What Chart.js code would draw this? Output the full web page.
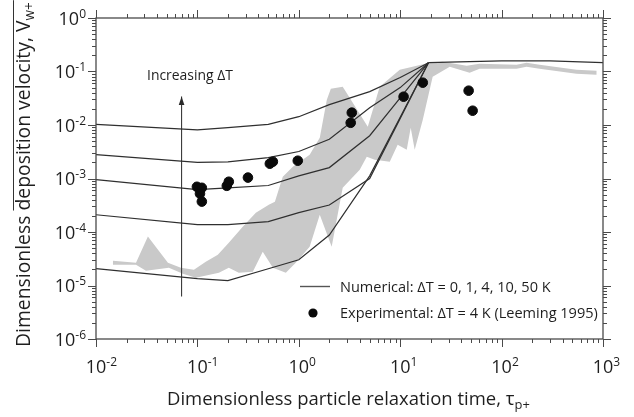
<!DOCTYPE html>
<html>
<head>
<meta charset="utf-8">
<script src="https://cdn.jsdelivr.net/npm/chart.js@4/dist/chart.umd.min.js"></script>
<style>
html,body{margin:0;padding:0;background:#fff;}
#wrap{width:634px;height:417px;position:relative;}
</style>
</head>
<body>
<div id="wrap"><canvas id="c"></canvas></div>
<script>
const FAMILY = "'Open Sans', 'DejaVu Sans', sans-serif";

// ---- Numerical curves (ΔT = 50, 10, 4, 1, 0 K) ----
const numX    = [0.01, 0.1, 0.2, 0.5, 1, 2, 5, 10, 19];
const numDT50 = [0.0103, 0.0081, 0.0089, 0.0103, 0.0143, 0.024, 0.042, 0.077, 0.146];
const numDT10 = [0.0028, 0.0020, 0.00205, 0.00245, 0.0032, 0.0054, 0.021, 0.05, 0.146];
const numDT4  = [0.00095, 0.00062, 0.00067, 0.00074, 0.00112, 0.0016, 0.0063, 0.032, 0.146];
const numDT1  = [0.00021, 0.000137, 0.000137, 0.000156, 0.00023, 0.00032, 0.001, 0.0133, 0.146];
const numDT0  = [0.0000206, 0.0000134, 0.0000123, 0.0000206, 0.0000303, 0.000088, 0.00112, 0.014, 0.146];
// common plateau of all curves for large relaxation times
const plateauX = [19, 30, 100, 300, 1000];
const plateauY = [0.146, 0.15, 0.158, 0.158, 0.147];

// ---- Experimental data (Leeming 1995, ΔT = 4 K) ----
const expX = [0.0989, 0.1106, 0.106, 0.1106, 0.195, 0.204, 0.315, 0.518, 0.555, 0.977, 3.33, 3.25, 10.8, 16.7, 47.3, 51.8];
const expY = [7.0e-4, 6.7e-4, 5.2e-4, 3.7e-4, 7.3e-4, 8.7e-4, 1.04e-3, 1.89e-3, 2.06e-3, 2.15e-3, 0.017, 0.011, 0.0338, 0.0618, 0.0438, 0.0185];

// ---- Grey scatter band (outline: upper edge left->right, lower edge right->left) ----
const bandX = [0.0147, 0.0248, 0.0325, 0.0512, 0.0687, 0.0924, 0.121, 0.159, 0.204, 0.280, 0.377, 0.506, 0.581, 0.695, 0.873, 1.28, 1.61, 1.89, 2.07, 2.71, 3.04, 4.79, 6.28, 9.9, 19.5, 26.2, 45.2, 60.7, 140.6, 176, 237, 548, 863,
               863, 548, 237, 176, 140.6, 60.7, 48.4, 30.8, 20.9, 16.7, 13.9, 12.7, 11.6, 9.44, 7.89, 5.61, 4.68, 3.99, 2.71, 2.11, 1.61, 1.28, 0.933, 0.745, 0.555, 0.441, 0.352, 0.256, 0.204, 0.163, 0.0966, 0.0720, 0.0523, 0.0311, 0.0248, 0.0147];
const bandY = [2.9e-5, 2.67e-5, 8.2e-5, 2.67e-5, 2.15e-5, 1.97e-5, 2.79e-5, 3.76e-5, 6.3e-5, 1.26e-4, 2.3e-4, 3.24e-4, 3.68e-4, 1.08e-3, 1.66e-3, 2.79e-3, 5.8e-3, 0.0297, 0.0477, 0.052, 0.0368, 9.3e-3, 0.052, 0.108, 0.146, 0.152, 0.128, 0.14, 0.134, 0.146, 0.134, 0.108, 0.1035,
               0.087, 0.091, 0.113, 0.123, 0.113, 0.113, 0.095, 0.123, 0.080, 0.0126, 3.45e-3, 8.9e-3, 3.45e-3, 4.28e-3, 2.06e-3, 2.25e-3, 2.55e-3, 1.46e-3, 6.7e-4, 5.3e-5, 2.1e-4, 5.3e-5, 2.67e-5, 1.73e-5, 2.15e-5, 4.28e-5, 1.81e-5, 1.73e-5, 2.15e-5, 1.73e-5, 1.4e-5, 1.66e-5, 2.15e-5, 1.89e-5, 2.45e-5, 2.45e-5];

// ---- "Increasing ΔT" arrow ----
const arrowX = [0.0698, 0.0698];
const arrowY = [6.2e-6, 0.034];

// ---- Axis ticks (decade exponents) ----
const xTickExps = [-2, -1, 0, 1, 2, 3];
const yTickExps = [-6, -5, -4, -3, -2, -1, 0];

// ---- Texts ----
const xTitleMain = 'Dimensionless particle relaxation time, τ';
const xTitleSub = 'p+';
const yTitleA = 'Dimensionless ';
const yTitleB = 'deposition velocity, V';
const yTitleSub = 'w+';
const arrowLabel = 'Increasing ΔT';
const legendNum = 'Numerical: ΔT = 0, 1, 4, 10, 50 K';
const legendExp = 'Experimental: ΔT = 4 K (Leeming 1995)';

const pts = (xs, ys) => xs.map((v, i) => ({x: v, y: ys[i]}));
const LINE = '#2f2f2f';

function curve(ys) {
  return {type: 'line', data: pts(numX, ys), borderColor: LINE, borderWidth: 1.2,
          pointRadius: 0, fill: false, tension: 0, order: 1};
}

const datasets = [
  {type: 'scatter', data: pts(expX, expY), backgroundColor: '#0a0a0a', borderColor: '#0a0a0a',
   pointRadius: 4.8, pointHoverRadius: 4.8, order: 0},
  curve(numDT50), curve(numDT10), curve(numDT4), curve(numDT1), curve(numDT0),
  {type: 'line', data: pts(plateauX, plateauY), borderColor: LINE, borderWidth: 1.2,
   pointRadius: 0, fill: false, tension: 0, order: 1},
  {type: 'line', data: pts(arrowX, arrowY), borderColor: '#3a3a3a', borderWidth: 1.1,
   pointRadius: 0, fill: false, order: 2},
  {type: 'line', data: pts(bandX, bandY), borderColor: 'rgba(0,0,0,0)', borderWidth: 0.5,
   backgroundColor: '#c9c9c9', pointRadius: 0, fill: 'shape', tension: 0, order: 3}
];

function fitSize(ctx, parts, target) {
  // parts: [{t, k}] where k is relative size factor
  let w = 0;
  for (const p of parts) { ctx.font = (20 * p.k) + 'px ' + FAMILY; w += ctx.measureText(p.t).width; }
  return 20 * target / w;
}

const overlay = {
  id: 'overlay',
  afterDatasetsDraw(chart) {
    const {ctx, chartArea: a, scales: {x, y}} = chart;
    ctx.save();
    // arrow head
    const ax = x.getPixelForValue(arrowX[1]);
    const ay = y.getPixelForValue(arrowY[1]);
    ctx.fillStyle = '#2a2a2a';
    ctx.beginPath();
    ctx.moveTo(ax, ay);
    ctx.lineTo(ax - 2.8, ay + 8.5);
    ctx.lineTo(ax + 2.8, ay + 8.5);
    ctx.closePath();
    ctx.fill();

    // frame
    ctx.strokeStyle = '#4a4a4a';
    ctx.lineWidth = 1.3;
    ctx.strokeRect(a.left, a.top, a.right - a.left, a.bottom - a.top);

    // ticks
    ctx.lineWidth = 1;
    ctx.beginPath();
    const MAJ = 8, MIN = 4;
    for (let i = 0; i < xTickExps.length; i++) {
      const e = xTickExps[i];
      const px = Math.round(x.getPixelForValue(Math.pow(10, e))) + 0.5;
      ctx.moveTo(px, a.top); ctx.lineTo(px, a.top - MAJ);
      ctx.moveTo(px, a.bottom); ctx.lineTo(px, a.bottom + MAJ);
      if (i < xTickExps.length - 1) {
        for (let k = 2; k <= 9; k++) {
          const q = Math.round(x.getPixelForValue(k * Math.pow(10, e))) + 0.5;
          ctx.moveTo(q, a.top); ctx.lineTo(q, a.top - MIN);
          ctx.moveTo(q, a.bottom); ctx.lineTo(q, a.bottom + MIN);
        }
      }
    }
    for (let i = 0; i < yTickExps.length; i++) {
      const e = yTickExps[i];
      const py = Math.round(y.getPixelForValue(Math.pow(10, e))) + 0.5;
      ctx.moveTo(a.left, py); ctx.lineTo(a.left - MAJ, py);
      ctx.moveTo(a.right, py); ctx.lineTo(a.right + MAJ, py);
      if (i < yTickExps.length - 1) {
        for (let k = 2; k <= 9; k++) {
          const q = Math.round(y.getPixelForValue(k * Math.pow(10, e))) + 0.5;
          ctx.moveTo(a.left, q); ctx.lineTo(a.left - MIN, q);
          ctx.moveTo(a.right, q); ctx.lineTo(a.right + MIN, q);
        }
      }
    }
    ctx.stroke();
    ctx.restore();
  },
  afterDraw(chart) {
    const {ctx, chartArea: a, scales: {x, y}} = chart;
    ctx.save();
    ctx.fillStyle = '#1e1e1e';
    ctx.textBaseline = 'alphabetic';
    ctx.textAlign = 'left';
    const BASE = 18, SUP = 12;
    const f = (s) => s + 'px ' + FAMILY;

    // x tick labels
    for (const e of xTickExps) {
      const px = x.getPixelForValue(Math.pow(10, e));
      ctx.font = f(BASE);
      const w10 = ctx.measureText('10').width;
      ctx.fillText('10', px - w10 / 2, a.bottom + 34);
      ctx.font = f(SUP);
      ctx.fillText(String(e), px + w10 / 2, a.bottom + 27);
    }
    // y tick labels
    for (const e of yTickExps) {
      const py = y.getPixelForValue(Math.pow(10, e));
      ctx.font = f(SUP);
      const ws = ctx.measureText(String(e)).width;
      ctx.font = f(BASE);
      const w10 = ctx.measureText('10').width;
      const right = a.left - 10;
      ctx.fillText('10', right - ws - w10, py + 6.5);
      ctx.font = f(SUP);
      ctx.fillText(String(e), right - ws, py - 0.5);
    }

    // x title
    let s = fitSize(ctx, [{t: xTitleMain, k: 1}, {t: xTitleSub, k: 0.7}], 363);
    ctx.font = f(s);
    ctx.fillText(xTitleMain, 167, 405);
    let wm = ctx.measureText(xTitleMain).width;
    ctx.font = f(s * 0.7);
    ctx.fillText(xTitleSub, 167 + wm, 409);

    // y title (rotated)
    s = fitSize(ctx, [{t: yTitleA + yTitleB, k: 1}, {t: yTitleSub, k: 0.7}], 345);
    ctx.save();
    ctx.translate(30, 347);
    ctx.rotate(-Math.PI / 2);
    ctx.font = f(s);
    ctx.fillText(yTitleA + yTitleB, 0, 0);
    const wA = ctx.measureText(yTitleA).width;
    const wAB = ctx.measureText(yTitleA + yTitleB).width;
    ctx.font = f(s * 0.7);
    ctx.fillText(yTitleSub, wAB, 4);
    const wS = ctx.measureText(yTitleSub).width;
    ctx.strokeStyle = '#333';
    ctx.lineWidth = 1;
    ctx.beginPath();
    ctx.moveTo(wA, -16.5);
    ctx.lineTo(wAB + wS + 2, -16.5);
    ctx.stroke();
    ctx.restore();

    // arrow label
    s = fitSize(ctx, [{t: arrowLabel, k: 1}], 86);
    ctx.font = f(s);
    ctx.fillText(arrowLabel, 147, 80);

    // legend
    s = fitSize(ctx, [{t: legendExp, k: 1}], 258);
    ctx.font = f(s);
    ctx.fillText(legendNum, 340, 292);
    ctx.fillText(legendExp, 340, 318);
    ctx.strokeStyle = '#555';
    ctx.lineWidth = 1.4;
    ctx.beginPath();
    ctx.moveTo(300, 286.5);
    ctx.lineTo(330, 286.5);
    ctx.stroke();
    ctx.fillStyle = '#0a0a0a';
    ctx.beginPath();
    ctx.arc(313, 313, 4.6, 0, Math.PI * 2);
    ctx.fill();
    ctx.restore();
  }
};

new Chart(document.getElementById('c'), {
  type: 'scatter',
  data: {datasets},
  options: {
    responsive: true,
    maintainAspectRatio: false,
    animation: false,
    devicePixelRatio: 1,
    layout: {padding: {left: 96, right: 31, top: 18, bottom: 78}},
    plugins: {legend: {display: false}, tooltip: {enabled: false}},
    scales: {
      x: {type: 'logarithmic', min: 0.01, max: 1000, display: false},
      y: {type: 'logarithmic', min: 1e-6, max: 1, display: false}
    }
  },
  plugins: [overlay]
});
</script>
</body>
</html>
